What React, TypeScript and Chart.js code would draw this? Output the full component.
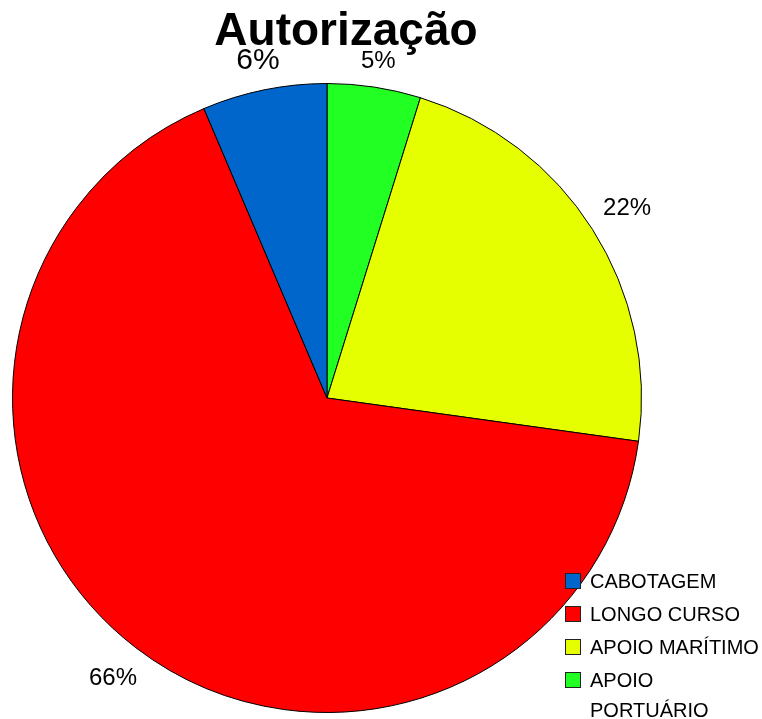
import React, { useEffect, useRef } from "react";
import { Chart, registerables } from "chart.js";

Chart.register(...registerables);

// Chart order (clockwise from 12 o'clock)
const categories = ["APOIO PORTUÁRIO", "APOIO MARÍTIMO", "LONGO CURSO", "CABOTAGEM"];
const values = [4.8, 22.4, 66.4, 6.4];
const colors = ["#22FF22", "#E6FF00", "#FF0000", "#0066CC"];
const labelFontSizes = [24, 24, 24, 30];
const titleText = "Autorização";

const FONT = "'Liberation Sans', Arial, sans-serif";

const overlayPlugin = {
  id: "overlay",
  afterDatasetsDraw(chart: any) {
    const ctx: CanvasRenderingContext2D = chart.ctx;
    const meta = chart.getDatasetMeta(0);
    const total = values.reduce((a, b) => a + b, 0);
    ctx.save();
    ctx.fillStyle = "#000";
    ctx.textAlign = "center";
    ctx.textBaseline = "middle";
    meta.data.forEach((arc: any, i: number) => {
      const { x, y, startAngle, endAngle, outerRadius } = arc.getProps(
        ["x", "y", "startAngle", "endAngle", "outerRadius"],
        true
      );
      const mid = (startAngle + endAngle) / 2;
      const dx = Math.cos(mid);
      const dy = Math.sin(mid);
      const size = labelFontSizes[i];
      ctx.font = `${size}px ${FONT}`;
      const text = Math.round((values[i] / total) * 100) + "%";
      const w = ctx.measureText(text).width;
      const h = size * 0.72;
      const extent = Math.abs(dx) * w / 2 + Math.abs(dy) * h / 2;
      const d = outerRadius + 16 + extent;
      ctx.fillText(text, x + dx * d, y + dy * d + 1);
    });

    // Title
    ctx.font = `bold 46px ${FONT}`;
    ctx.textAlign = "center";
    ctx.textBaseline = "alphabetic";
    ctx.fillText(titleText, 346, 45);

    // Legend (reverse of clockwise order)
    const legendOrder = categories.map((_, i) => categories.length - 1 - i);
    ctx.font = `20px ${FONT}`;
    ctx.textAlign = "left";
    ctx.textBaseline = "middle";
    let rowY = 581;
    const boxX = 565;
    const textX = 590;
    const maxW = 762 - textX - 2;
    legendOrder.forEach((idx) => {
      ctx.fillStyle = colors[idx];
      ctx.fillRect(boxX, rowY - 8, 16, 16);
      ctx.strokeStyle = "#222";
      ctx.lineWidth = 1;
      ctx.strokeRect(boxX + 0.5, rowY - 7.5, 15, 15);
      ctx.fillStyle = "#000";
      const words = categories[idx].split(" ");
      const lines: string[] = [];
      let cur = "";
      words.forEach((wd) => {
        const test = cur ? cur + " " + wd : wd;
        if (ctx.measureText(test).width > maxW && cur) {
          lines.push(cur);
          cur = wd;
        } else cur = test;
      });
      if (cur) lines.push(cur);
      lines.forEach((ln, li) => {
        ctx.fillText(ln, textX, rowY + li * 30 + 1);
      });
      rowY += 33;
    });
    ctx.restore();
  },
};

export default function App() {
  const ref = useRef<HTMLCanvasElement>(null);
  useEffect(() => {
    if (!ref.current) return;
    const chart = new Chart(ref.current, {
      type: "pie",
      data: {
        labels: categories,
        datasets: [
          {
            data: values,
            backgroundColor: colors,
            borderColor: "#000",
            borderWidth: 1,
          },
        ],
      },
      options: {
        responsive: false,
        animation: false,
        layout: { padding: { left: 12, right: 120, top: 83, bottom: 6 } },
        plugins: {
          legend: { display: false },
          title: { display: false },
          tooltip: { enabled: false },
        },
      },
      plugins: [overlayPlugin],
    });
    return () => chart.destroy();
  }, []);
  return (
    <div style={{ position: "absolute", left: 0, top: 0, width: 762, height: 719, background: "#fff" }}>
      <canvas ref={ref} width={762} height={719} />
    </div>
  );
}
